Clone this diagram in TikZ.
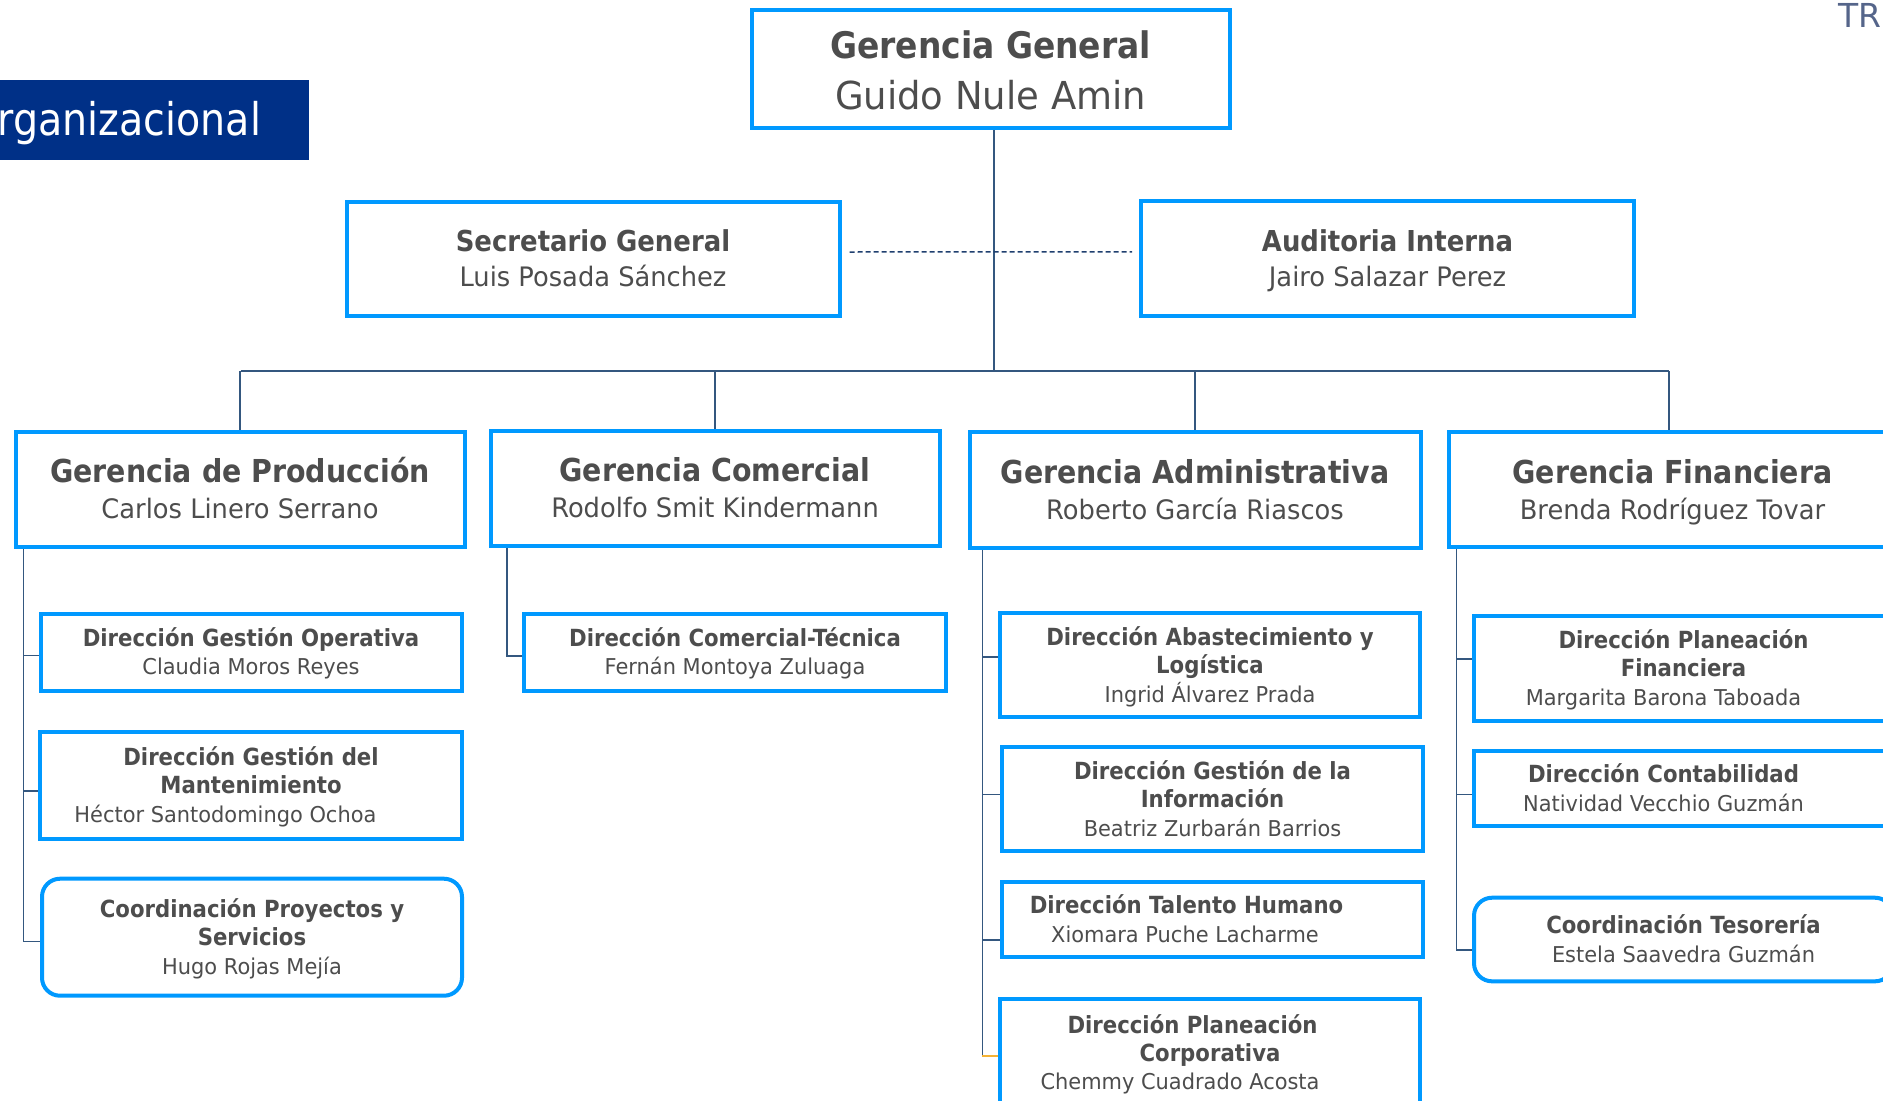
\documentclass[tikz,border=0pt]{standalone}
\usepackage{fontspec}
\setmainfont{DejaVu Sans}[UprightFeatures={FakeStretch=0.96}, BoldFeatures={FakeStretch=0.9}]
\newfontfamily\titlefont{DejaVu Sans}[FakeStretch=0.88]
\newfontfamily\trfont{DejaVu Sans}
\definecolor{boxblue}{HTML}{0099FF}
\definecolor{txt}{HTML}{4D4D4D}
\definecolor{connblue}{HTML}{34577F}
\definecolor{dashblue}{HTML}{1F3F6F}
\definecolor{navy}{HTML}{003087}
\definecolor{trcol}{HTML}{55658A}
\definecolor{ticko}{HTML}{F5B335}
\newcommand\tp{\vphantom{Ó}}
\newcommand\bt{\vphantom{g}}
\newcommand\subname[1]{{\fontsize{10.9}{14.2}\selectfont #1\bt}}
\newcommand\gername[1]{{\fontsize{13.4}{18}\selectfont #1\bt}}
\newcommand\secname[1]{{\fontsize{13.4}{17.2}\selectfont #1\bt}}
\pgfdeclarelayer{bg}
\pgfsetlayers{bg,main}
\tikzset{
  box/.style={draw=boxblue, line width=2pt, fill=white, inner sep=0pt, align=center, text=txt},
  rbox/.style={box, rounded corners=9pt},
  sz/.style 2 args={minimum width={(#1-4)*0.5pt}, minimum height={(#2-4)*0.5pt}},
  conn/.style={draw=connblue, line width=0.8pt},
  dashc/.style={draw=dashblue, line width=0.75pt, dash pattern=on 2.5pt off 1.5pt},
  subf/.style={font=\fontsize{11.8}{14.2}\selectfont},
  gerf/.style={font=\fontsize{15.8}{18}\selectfont},
  secf/.style={font=\fontsize{14.4}{17.2}\selectfont},
  ggf/.style={font=\fontsize{18.3}{25.5}\selectfont},
}
\begin{document}
\begin{tikzpicture}[x=0.5pt,y=-0.5pt]
\useasboundingbox (0,0) rectangle (1883,1100);
% title bar
\node[fill=navy, inner sep=0pt, minimum width=154.5pt, minimum height=40pt, anchor=north west] (titlebar) at (0,79.3) {};
\node[text=white, inner sep=0pt, anchor=base west, font=\titlefont\fontsize{22.5}{24}\selectfont] (titletxt) at (-3,135) {rganizacional};
\node[text=trcol, inner sep=0pt, anchor=base west, font=\trfont\fontsize{16.5}{18}\selectfont] (trtxt) at (1838,27) {TR};
% top level
\node[box,ggf,sz={482}{122}] (gg) at (990.5,68.5) {{\bfseries Gerencia General\rule{0pt}{19.6pt}}\\{\fontsize{19.25}{25.5}\selectfont Guido Nule Amin\bt}};
\node[box,secf,sz={497}{118}] (sec) at (593,258.5) {{\bfseries Secretario General\tp}\\\secname{Luis Posada Sánchez}};
\node[box,secf,sz={497}{118.5}] (aud) at (1387.5,258.25) {{\bfseries Auditoria Interna\tp}\\\secname{Jairo Salazar Perez}};
% gerencias
\node[box,gerf,sz={453}{119}] (prod) at (240,489) {{\bfseries Gerencia de Producción\tp}\\\gername{Carlos Linero Serrano}};
\node[box,gerf,sz={453}{119}] (com) at (715,488) {{\bfseries Gerencia Comercial\tp}\\\gername{Rodolfo Smit Kindermann}};
\node[box,gerf,sz={455}{120}] (adm) at (1195,490) {{\bfseries Gerencia Administrativa\tp}\\\gername{Roberto García Riascos}};
\node[box,gerf,sz={451}{119}] (fin) at (1672.5,489.5) {{\bfseries Gerencia Financiera\tp}\\\gername{Brenda Rodríguez Tovar}};
% produccion
\node[box,subf,sz={425}{81}] (dgo) at (251,652) {{\bfseries Dirección Gestión Operativa\tp}\\\subname{Claudia Moros Reyes}};
\node[box,subf,sz={426}{110.7}] (dgm) at (251,785.3) {{\bfseries Dirección Gestión del\tp}\\{\bfseries Mantenimiento}\\\subname{Héctor Santodomingo Ochoa\hspace*{25.6pt}}};
\node[rbox,subf,sz={424}{121}] (cps) at (252,937.2) {{\bfseries Coordinación Proyectos y\tp}\\{\bfseries Servicios}\\\subname{Hugo Rojas Mejía}};
% comercial
\node[box,subf,sz={426}{81}] (dct) at (735,652) {{\bfseries Dirección Comercial-Técnica\tp}\\\subname{Fernán Montoya Zuluaga}};
% administrativa
\node[box,subf,sz={424}{108.6}] (dal) at (1210,665) {{\bfseries Dirección Abastecimiento y\tp}\\{\bfseries Logística}\\\subname{Ingrid Álvarez Prada}};
\node[box,subf,sz={425}{108}] (dgi) at (1212.5,799) {{\bfseries Dirección Gestión de la\tp}\\{\bfseries Información}\\\subname{Beatriz Zurbarán Barrios}};
\node[box,subf,sz={425}{79}] (dth) at (1212.5,919.5) {{\bfseries Dirección Talento Humano\tp\hspace*{26pt}}\\\subname{Xiomara Puche Lacharme\hspace*{27.5pt}}};
\node[box,subf,sz={424}{112}] (dpc) at (1210,1052.7) {{\bfseries Dirección Planeación\tp\hspace*{17.5pt}}\\{\bfseries Corporativa\hspace*{16pt}}\\\subname{Chemmy Cuadrado Acosta\hspace*{30pt}}};
% financiera
\node[box,subf,sz={423}{108.7}] (dpf) at (1683.5,668.3) {{\bfseries Dirección Planeación\tp}\\{\bfseries Financiera}\\\subname{Margarita Barona Taboada\hspace*{20pt}}};
\node[box,subf,sz={423}{79}] (dc) at (1683.5,788.5) {{\bfseries Dirección Contabilidad\tp\hspace*{20pt}}\\\subname{Natividad Vecchio Guzmán\hspace*{20pt}}};
\node[rbox,subf,sz={423}{87.6}] (ct) at (1683.5,939.5) {{\bfseries Coordinación Tesorería\tp}\\\subname{Estela Saavedra Guzmán}};
% connectors
\begin{pgfonlayer}{bg}
\coordinate (bus) at (0,371);
\coordinate[xshift=1.75pt] (ggb) at (gg.south);
\draw[conn] (ggb) -- (ggb |- bus);
\coordinate (busl) at (240.5,371);
\coordinate (busr) at (1669,371);
\draw[conn] (busl) -- (busr);
\draw[conn] (prod.north) -- (prod.north |- bus);
\draw[conn] (com.north) -- (com.north |- bus);
\draw[conn] (adm.north) -- (adm.north |- bus);
\draw[conn] (busr) -- (busr |- fin.north);
\draw[dashc, shorten <=4pt, shorten >=3.5pt] ([yshift=3.25pt]sec.east) -- ([yshift=3.25pt]aud.west);
% produccion tree
\coordinate (pv) at (23.5,0);
\draw[conn] (prod.south -| pv) |- ([yshift=-1.65pt]dgo.west);
\draw[conn] (prod.south -| pv) |- ([yshift=-2.85pt]dgm.west);
\draw[conn] (prod.south -| pv) |- ([yshift=-2.15pt]cps.west);
% comercial tree
\coordinate (cv) at (507,0);
\draw[conn] (com.south -| cv) |- ([yshift=-2pt]dct.west);
% administrativa tree
\coordinate (av) at (982.4,0);
\draw[conn] (adm.south -| av) |- ([yshift=4.15pt]dal.west);
\draw[conn] (adm.south -| av) |- ([yshift=2.35pt]dgi.west);
\draw[conn] (adm.south -| av) |- ([yshift=-10.25pt]dth.west);
\coordinate[yshift=-1.5pt] (dpct) at (dpc.west);
\draw[conn] (adm.south -| av) -- (av |- dpct);
\draw[draw=ticko, line width=0.8pt] (av |- dpct) -- (dpct);
% financiera tree
\coordinate (fv) at (1456.5,0);
\draw[conn] (fin.south -| fv) |- ([yshift=4.65pt]dpf.west);
\draw[conn] (fin.south -| fv) |- ([yshift=-2.9pt]dc.west);
\draw[conn] (fin.south -| fv) |- ([yshift=-5.25pt]ct.west);
\end{pgfonlayer}
\end{tikzpicture}
\end{document}
